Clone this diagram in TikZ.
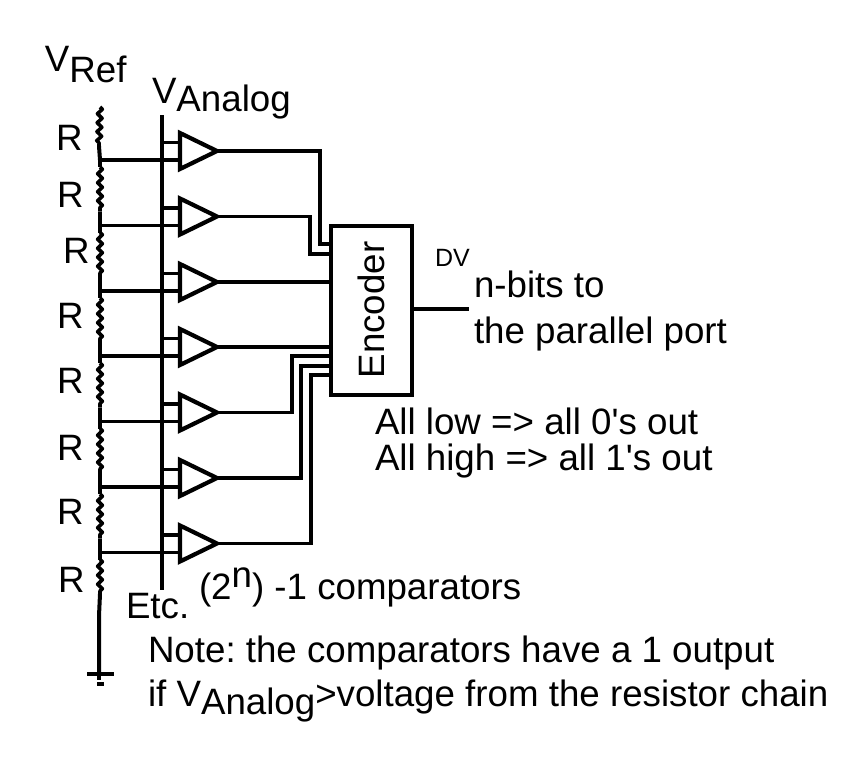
\documentclass[tikz,border=0pt]{standalone}
\usepackage{fontspec}
\setmainfont{Liberation Sans}
\newfontfamily\straightfont{Liberation Sans}
\usetikzlibrary{decorations.pathmorphing,calc}
\tikzset{
  x=1pt,y=-1pt,
  wire/.style={line width=4pt,line join=miter,line cap=butt,draw=black},
  outwire/.style={line width=3.8pt,draw=black,line join=miter},
  comp/.style={line width=4.2pt,draw=black,line join=miter},
  res/.style={line width=3.6pt,draw=black,line join=round,decorate,decoration={zigzag,segment length=9pt,amplitude=2.4pt}},
  lab/.style={anchor=base west,inner sep=0pt,outer sep=0pt,font=\fontsize{36.7}{36.7}\selectfont\frenchspacing},
  encbox/.style={draw=black,line width=4pt,minimum width=81pt,minimum height=169pt,inner sep=0pt,outer sep=0pt}
}
\newcommand{\subs}[1]{\raisebox{-8.5pt}{#1}}
\newcommand{\apos}{{\straightfont\symbol{39}}}
\begin{document}
\begin{tikzpicture}
\useasboundingbox (0,0) rectangle (860,766);
\node[encbox] (enc) at (371.5,310.5) {};
\node[rotate=90,inner sep=0pt,font=\fontsize{36.7}{36.7}\selectfont] (enclab) at (371,310) {Encoder};
% rails
\coordinate (atop) at (162,115);
\coordinate (abot) at (162,590);
\draw[wire] (atop) -- (abot);
\coordinate (rtop) at (100,107);
\coordinate (gnd) at (99,674);
% comparators
\foreach \n/\y in {1/151,2/216.5,3/282,4/347,5/412.5,6/478,7/543.5}{
  \coordinate (cw\n) at (180,\y);
  \coordinate (ct\n) at (217,\y);
  \coordinate (lo\n) at (100,\y+9);
}
\foreach \n/\y in {1/151,2/216.5,3/282,4/347,5/412.5,6/478,7/543.5}{
  \draw[outwire] (162,\y-8.5) -- (180,\y-8.5);
  \draw[outwire] (lo\n) -- (180,\y+9);
  \draw[comp,fill=white] (180,\y-18) -- (ct\n) -- (180,\y+18) -- cycle;
}
% resistor chain
\draw[res] (rtop) -- (99,146);
\draw[wire] (99,146) -- (lo1);
\foreach \a/\b in {1/2,2/3,3/4,4/5,5/6,6/7}{
  \draw[wire] (lo\a) -- ($(lo\a)+(0,7)$);
  \draw[res] ($(lo\a)+(0,7)$) -- ($(lo\b)+(0,-14)$);
  \draw[wire] ($(lo\b)+(0,-14)$) -- (lo\b);
}
\draw[wire] (lo7) -- ($(lo7)+(0,7)$);
\draw[res] ($(lo7)+(0,7)$) -- (100,594);
\draw[wire] (100,594) -- (99,616) -- (gnd);
% ground
\coordinate (g1) at (87,674);
\coordinate (g2) at (114,674);
\coordinate (g3) at (97,684);
\coordinate (g4) at (104,684);
\draw[wire] (g1) -- (g2);
\draw[wire] (g3) -- (g4);
\draw[wire] (gnd) -- (99,680);
% outputs
\draw[outwire] (ct1) -| (320,244) -- (enc.west |- 0,244);
\draw[outwire] (ct2) -| (310,254) -- (enc.west |- 0,254);
\draw[outwire] (ct3) -- (enc.west |- ct3);
\draw[outwire] (ct4) -- (enc.west |- ct4);
\draw[outwire] (ct5) -| (292,356) -- (enc.west |- 0,356);
\draw[outwire] (ct6) -| (301,366) -- (enc.west |- 0,366);
\draw[outwire] (ct7) -| (311,375) -- (enc.west |- 0,375);
\coordinate (dout) at (469,309);
\draw[outwire] (enc.east |- dout) -- (dout);
% labels
\node[lab] (vref) at (45,71) {V\raisebox{-11pt}{Ref}};
\node[lab] (vana) at (152,103) {V\subs{Analog}};
\node[lab] (r1) at (56,150) {R};
\node[lab] (r2) at (57,207) {R};
\node[lab] (r3) at (63,263) {R};
\node[lab] (r4) at (57,328) {R};
\node[lab] (r5) at (57,393) {R};
\node[lab] (r6) at (57,460) {R};
\node[lab] (r7) at (57,524) {R};
\node[lab] (r8) at (58,592) {R};
\node[lab,font=\fontsize{25}{25}\selectfont] (dv) at (435,266) {DV};
\node[lab] (nb) at (474,297) {n-bits to};
\node[lab] (pp) at (474,343) {the parallel port};
\node[lab] (al) at (375,434) {All low => all 0\apos s out};
\node[lab] (ah) at (375,470) {All high => all 1\apos s out};
\node[lab] (etc) at (126,618) {Etc.};
\node[lab] (cnt) at (199,599) {(2\raisebox{12pt}{n}) -1 comparators};
\node[lab] (n1) at (148,662) {Note: the comparators have a 1 output};
\node[lab] (n2) at (148,706) {if V\subs{Analog}>voltage from the resistor chain};
\end{tikzpicture}
\end{document}
